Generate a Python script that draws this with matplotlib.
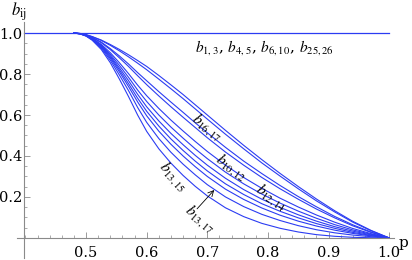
import numpy as np
import matplotlib.pyplot as plt

plt.rcParams['font.family'] = 'DejaVu Serif'
plt.rcParams['mathtext.fontset'] = 'stix'

# p grid and curve values
p = [0.48, 0.49, 0.5, 0.51, 0.525, 0.54, 0.555, 0.57, 0.585, 0.6, 0.62, 0.64, 0.66,
     0.68, 0.7, 0.73, 0.76, 0.79, 0.82, 0.85, 0.88, 0.91, 0.94, 0.97, 1.0]

b_curves = [
    [1.0, 0.998, 0.992, 0.983, 0.966, 0.944, 0.920, 0.894, 0.866, 0.837, 0.793, 0.747, 0.700,
     0.650, 0.600, 0.525, 0.452, 0.382, 0.315, 0.251, 0.190, 0.133, 0.081, 0.037, 0.0],
    [1.0, 0.998, 0.992, 0.982, 0.964, 0.940, 0.913, 0.884, 0.853, 0.821, 0.775, 0.728, 0.680,
     0.630, 0.580, 0.506, 0.435, 0.366, 0.302, 0.240, 0.181, 0.127, 0.077, 0.035, 0.0],
    [1.0, 0.998, 0.990, 0.979, 0.956, 0.924, 0.888, 0.849, 0.807, 0.767, 0.714, 0.663, 0.613,
     0.562, 0.513, 0.442, 0.375, 0.314, 0.256, 0.202, 0.152, 0.105, 0.064, 0.029, 0.0],
    [1.0, 0.997, 0.990, 0.978, 0.953, 0.919, 0.879, 0.837, 0.792, 0.748, 0.693, 0.640, 0.589,
     0.539, 0.489, 0.419, 0.355, 0.295, 0.240, 0.189, 0.141, 0.098, 0.059, 0.027, 0.0],
    [1.0, 0.997, 0.989, 0.975, 0.945, 0.904, 0.855, 0.802, 0.746, 0.694, 0.632, 0.575, 0.522,
     0.471, 0.422, 0.355, 0.295, 0.242, 0.194, 0.151, 0.112, 0.077, 0.046, 0.021, 0.0],
    [1.0, 0.997, 0.988, 0.973, 0.941, 0.896, 0.842, 0.784, 0.722, 0.666, 0.600, 0.541, 0.487,
     0.435, 0.387, 0.321, 0.264, 0.214, 0.170, 0.131, 0.096, 0.065, 0.039, 0.018, 0.0],
    [1.0, 0.997, 0.988, 0.972, 0.937, 0.889, 0.830, 0.768, 0.701, 0.640, 0.571, 0.510, 0.455,
     0.403, 0.355, 0.291, 0.236, 0.189, 0.149, 0.113, 0.082, 0.055, 0.033, 0.015, 0.0],
    [1.0, 0.997, 0.987, 0.971, 0.934, 0.883, 0.820, 0.753, 0.682, 0.618, 0.546, 0.483, 0.427,
     0.375, 0.327, 0.264, 0.212, 0.167, 0.130, 0.098, 0.070, 0.047, 0.027, 0.012, 0.0],
    [1.0, 0.996, 0.987, 0.969, 0.931, 0.876, 0.810, 0.739, 0.664, 0.596, 0.521, 0.457, 0.400,
     0.348, 0.300, 0.238, 0.188, 0.146, 0.111, 0.082, 0.058, 0.038, 0.022, 0.010, 0.0],
    [1.0, 0.996, 0.986, 0.968, 0.926, 0.867, 0.795, 0.719, 0.637, 0.564, 0.485, 0.418, 0.360,
     0.308, 0.260, 0.200, 0.153, 0.115, 0.085, 0.060, 0.040, 0.025, 0.014, 0.006, 0.0],
    [1.0, 0.996, 0.985, 0.965, 0.920, 0.855, 0.775, 0.690, 0.600, 0.520, 0.435, 0.365, 0.305,
     0.252, 0.205, 0.147, 0.104, 0.071, 0.047, 0.029, 0.016, 0.008, 0.003, 0.001, 0.0],
]

# the constant ones (b13, b45, b6,10, b25,26)
p_flat = [0.398, 1.0]
b_flat = [1.0, 1.0]

xticks = [0.5, 0.6, 0.7, 0.8, 0.9, 1.0]
yticks = [0.2, 0.4, 0.6, 0.8, 1.0]

blue = '#2b3cf2'
grey = '#8a8a8a'

fig = plt.figure(figsize=(4.12, 2.60), dpi=100)
ax = fig.add_axes([17/412, 2/260, 377/412, 236/260])
ax.set_xlim(0.386, 1.008)
ax.set_ylim(-0.098, 1.054)

ax.plot(p_flat, b_flat, color=blue, lw=0.9)
for b in b_curves:
    ax.plot(p, b, color=blue, lw=0.8)

ax.spines['top'].set_visible(False)
ax.spines['right'].set_visible(False)
ax.spines['left'].set_position(('data', 0.398))
ax.spines['bottom'].set_position(('data', 0.0))
for s in ['left', 'bottom']:
    ax.spines[s].set_color(grey)
    ax.spines[s].set_linewidth(0.8)

ax.set_xticks(xticks)
ax.set_xticklabels(['%.1f' % t for t in xticks])
ax.set_xticks(np.arange(0.4, 1.001, 0.02), minor=True)
ax.set_yticks(yticks)
ax.set_yticklabels(['%.1f' % t for t in yticks])
ax.set_yticks(np.arange(0.05, 1.04, 0.05), minor=True)
ax.tick_params(which='major', direction='in', length=4, width=0.6, color=grey,
               labelsize=10.5)
ax.tick_params(which='minor', direction='in', length=2, width=0.5, color=grey)
ax.tick_params(axis='x', pad=6)
ax.tick_params(axis='y', pad=1.5)

fig.text(19/412, 1 - 12/260, r'$b_{\mathrm{ij}}$', ha='center', va='center', fontsize=12)
fig.text(403/412, 1 - 243/260, 'p', ha='center', va='center', fontsize=11)

ax.text(0.68, 0.93, r'$b_{1,3}$, $b_{4,5}$, $b_{6,10}$, $b_{25,26}$',
        ha='left', va='center', fontsize=11)

lab = dict(ha='center', va='center', fontsize=11, rotation_mode='anchor')
ax.text(0.701, 0.541, r'$b_{16,17}$', rotation=-38, **lab)
ax.text(0.741, 0.346, r'$b_{10,12}$', rotation=-35, **lab)
ax.text(0.807, 0.200, r'$b_{12,14}$', rotation=-35, **lab)
ax.text(0.644, 0.298, r'$b_{13,15}$', rotation=-48, **lab)
ax.text(0.688, 0.093, r'$b_{13,17}$', rotation=-40, **lab)
ax.annotate('', xy=(0.7145, 0.244), xytext=(0.680, 0.132),
            arrowprops=dict(arrowstyle='->', color='black', lw=0.6))

fig.savefig('out.png', dpi=100)
